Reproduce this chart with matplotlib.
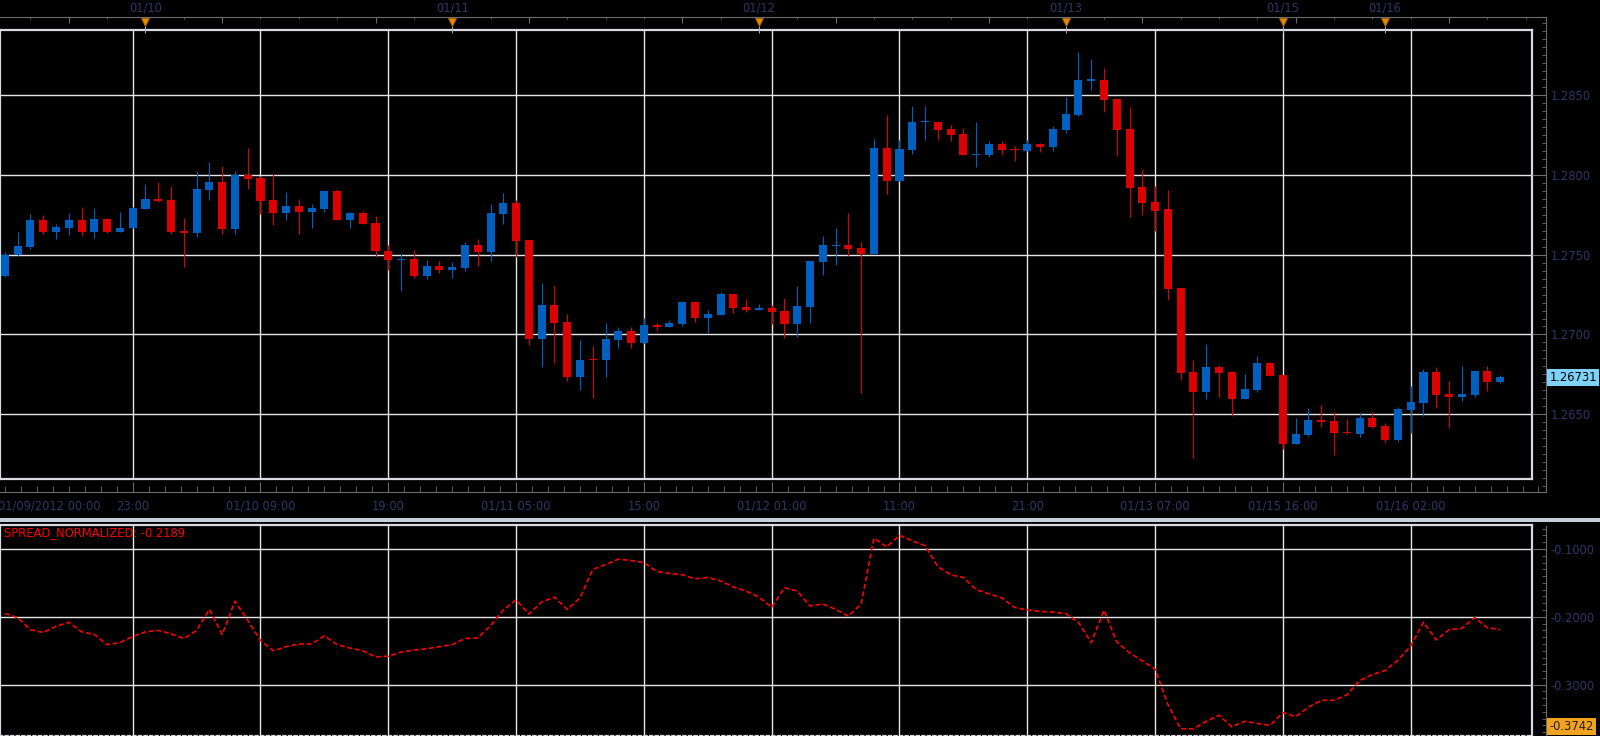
import numpy as np
import matplotlib
matplotlib.use("Agg")
import matplotlib.pyplot as plt
from matplotlib.patches import Rectangle
from matplotlib.ticker import MultipleLocator, FixedLocator, FormatStrFormatter

# hourly EURUSD-style candles
opens = [1.27367, 1.27496, 1.27546, 1.27720, 1.27639, 1.27670, 1.27714, 1.27639, 1.27726, 1.27639,
         1.27664, 1.27789, 1.27851, 1.27844, 1.27651, 1.27633, 1.27907, 1.27956, 1.27658, 1.28000,
         1.27981, 1.27844, 1.27763, 1.27807, 1.27770, 1.27789, 1.27901, 1.27714, 1.27763, 1.27701,
         1.27525, 1.27468, 1.27473, 1.27366, 1.27429, 1.27404, 1.27416, 1.27561, 1.27517, 1.27756,
         1.27826, 1.27593, 1.26969, 1.27183, 1.27076, 1.26736, 1.26845, 1.26837, 1.26963, 1.27019,
         1.26944, 1.27057, 1.27044, 1.27063, 1.27202, 1.27101, 1.27120, 1.27252, 1.27170, 1.27152,
         1.27164, 1.27148, 1.27068, 1.27173, 1.27455, 1.27558, 1.27562, 1.27543, 1.27505, 1.28170,
         1.27963, 1.28157, 1.28331, 1.28333, 1.28289, 1.28258, 1.28128, 1.28126, 1.28195, 1.28159,
         1.28151, 1.28195, 1.28176, 1.28283, 1.28377, 1.28592, 1.28596, 1.28477, 1.28289, 1.27925,
         1.27831, 1.27785, 1.27288, 1.26766, 1.26641, 1.26798, 1.26766, 1.26597, 1.26653, 1.26823,
         1.26748, 1.26314, 1.26370, 1.26465, 1.26458, 1.26387, 1.26377, 1.26477, 1.26427, 1.26339,
         1.26527, 1.26571, 1.26766, 1.26628, 1.26609, 1.26622, 1.26773, 1.26704]
highs = [1.27514, 1.27645, 1.27757, 1.27751, 1.27695, 1.27763, 1.27801, 1.27795, 1.27732, 1.27770,
         1.27800, 1.27944, 1.27956, 1.27932, 1.27732, 1.28025, 1.28081, 1.28056, 1.28025, 1.28168,
         1.27990, 1.28006, 1.27894, 1.27851, 1.27820, 1.27907, 1.27913, 1.27770, 1.27776, 1.27739,
         1.27558, 1.27502, 1.27530, 1.27467, 1.27460, 1.27454, 1.27580, 1.27599, 1.27819, 1.27889,
         1.27845, 1.27593, 1.27322, 1.27303, 1.27126, 1.26963, 1.26925, 1.27070, 1.27044, 1.27044,
         1.27101, 1.27070, 1.27089, 1.27202, 1.27202, 1.27152, 1.27265, 1.27252, 1.27221, 1.27190,
         1.27183, 1.27231, 1.27305, 1.27461, 1.27618, 1.27668, 1.27762, 1.27580, 1.28226, 1.28377,
         1.28220, 1.28433, 1.28433, 1.28333, 1.28314, 1.28295, 1.28333, 1.28214, 1.28214, 1.28182,
         1.28220, 1.28201, 1.28308, 1.28490, 1.28772, 1.28728, 1.28671, 1.28477, 1.28427, 1.28038,
         1.27931, 1.27905, 1.27288, 1.26842, 1.26942, 1.26810, 1.26766, 1.26754, 1.26867, 1.26829,
         1.26748, 1.26477, 1.26540, 1.26559, 1.26515, 1.26471, 1.26509, 1.26515, 1.26446, 1.26546,
         1.26678, 1.26785, 1.26798, 1.26710, 1.26804, 1.26773, 1.26804, 1.26748]
lows = [1.27360, 1.27490, 1.27533, 1.27627, 1.27596, 1.27620, 1.27614, 1.27602, 1.27633, 1.27639,
        1.27664, 1.27789, 1.27832, 1.27627, 1.27421, 1.27608, 1.27844, 1.27627, 1.27627, 1.27913,
        1.27757, 1.27683, 1.27714, 1.27627, 1.27664, 1.27770, 1.27714, 1.27670, 1.27689, 1.27483,
        1.27402, 1.27271, 1.27353, 1.27347, 1.27385, 1.27353, 1.27397, 1.27429, 1.27460, 1.27693,
        1.27485, 1.26937, 1.26799, 1.26824, 1.26711, 1.26654, 1.26604, 1.26736, 1.26918, 1.26918,
        1.26944, 1.27019, 1.27044, 1.27051, 1.27076, 1.27007, 1.27120, 1.27133, 1.27139, 1.27152,
        1.27063, 1.26981, 1.26987, 1.27073, 1.27373, 1.27436, 1.27493, 1.26635, 1.27505, 1.27881,
        1.27963, 1.28132, 1.28220, 1.28220, 1.28214, 1.28126, 1.28051, 1.28113, 1.28126, 1.28088,
        1.28151, 1.28145, 1.28151, 1.28264, 1.28370, 1.28533, 1.28396, 1.28120, 1.27737, 1.27750,
        1.27650, 1.27213, 1.26716, 1.26228, 1.26597, 1.26609, 1.26490, 1.26597, 1.26641, 1.26741,
        1.26282, 1.26314, 1.26364, 1.26421, 1.26244, 1.26379, 1.26358, 1.26414, 1.26320, 1.26326,
        1.26383, 1.26490, 1.26540, 1.26414, 1.26584, 1.26609, 1.26647, 1.26697]
closes = [1.27500, 1.27552, 1.27720, 1.27639, 1.27676, 1.27714, 1.27639, 1.27726, 1.27639, 1.27670,
          1.27795, 1.27851, 1.27838, 1.27645, 1.27633, 1.27913, 1.27956, 1.27658, 1.28000, 1.27975,
          1.27838, 1.27763, 1.27807, 1.27770, 1.27795, 1.27901, 1.27714, 1.27763, 1.27695, 1.27521,
          1.27469, 1.27473, 1.27366, 1.27429, 1.27404, 1.27422, 1.27561, 1.27517, 1.27763, 1.27826,
          1.27586, 1.26969, 1.27183, 1.27070, 1.26736, 1.26843, 1.26840, 1.26969, 1.27019, 1.26944,
          1.27057, 1.27044, 1.27070, 1.27202, 1.27101, 1.27126, 1.27252, 1.27164, 1.27152, 1.27164,
          1.27139, 1.27068, 1.27179, 1.27461, 1.27562, 1.27562, 1.27537, 1.27505, 1.28170, 1.27963,
          1.28163, 1.28333, 1.28333, 1.28283, 1.28251, 1.28126, 1.28130, 1.28195, 1.28157, 1.28155,
          1.28195, 1.28176, 1.28289, 1.28383, 1.28596, 1.28596, 1.28471, 1.28283, 1.27919, 1.27825,
          1.27775, 1.27282, 1.26760, 1.26641, 1.26798, 1.26760, 1.26597, 1.26660, 1.26823, 1.26741,
          1.26314, 1.26377, 1.26465, 1.26452, 1.26383, 1.26383, 1.26477, 1.26421, 1.26339, 1.26534,
          1.26578, 1.26766, 1.26622, 1.26609, 1.26628, 1.26773, 1.26704, 1.26731]

spread = [-0.195, -0.201, -0.219, -0.223, -0.214, -0.208, -0.222, -0.226, -0.241, -0.238,
          -0.229, -0.222, -0.220, -0.225, -0.232, -0.220, -0.189, -0.226, -0.177, -0.205,
          -0.235, -0.250, -0.244, -0.240, -0.240, -0.228, -0.241, -0.246, -0.250, -0.259,
          -0.258, -0.252, -0.249, -0.247, -0.244, -0.241, -0.232, -0.231, -0.213, -0.190,
          -0.175, -0.196, -0.178, -0.171, -0.189, -0.172, -0.130, -0.123, -0.115, -0.117,
          -0.120, -0.133, -0.136, -0.138, -0.144, -0.142, -0.147, -0.156, -0.162, -0.171,
          -0.186, -0.157, -0.162, -0.184, -0.181, -0.189, -0.199, -0.181, -0.084, -0.097,
          -0.080, -0.088, -0.095, -0.126, -0.138, -0.142, -0.160, -0.166, -0.172, -0.186,
          -0.190, -0.192, -0.193, -0.195, -0.208, -0.238, -0.190, -0.237, -0.253, -0.265,
          -0.277, -0.329, -0.365, -0.365, -0.354, -0.345, -0.362, -0.354, -0.357, -0.360,
          -0.341, -0.347, -0.333, -0.323, -0.323, -0.315, -0.294, -0.285, -0.279, -0.264,
          -0.243, -0.208, -0.234, -0.219, -0.217, -0.201, -0.216, -0.2189]

first_label = "01/09/2012 00:00"
time_bars = [10, 20, 30, 40, 50, 60, 70, 80, 90, 100, 110]
time_labels = ["23:00", "01/10 09:00", "19:00", "01/11 05:00", "15:00", "01/12 01:00",
               "11:00", "21:00", "01/13 07:00", "01/15 16:00", "01/16 02:00"]
day_bars = [11, 35, 59, 83, 100, 108]
day_labels = ["01/10", "01/11", "01/12", "01/13", "01/15", "01/16"]
price_levels = [1.2650, 1.2700, 1.2750, 1.2800, 1.2850]
spread_levels = [-0.1, -0.2, -0.3]
spread_name = "SPREAD_NORMALIZED"
spread_low = -0.3742

BLUE = "#0060c0"
RED = "#dc0000"
FRAME = "#d6dae2"
GRID = "#e6e6e6"
AXIS = "#6c6c6c"
LABEL = "#33336a"
FS = 8.3

plt.rcParams["font.family"] = ["DejaVu Sans"]

W, H = 1600, 736
PX_BAR = 12.78
X0 = -4.9 / PX_BAR


def fbox(x0, y0, x1, y1):
    return [x0 / W, 1 - y1 / H, (x1 - x0) / W, (y1 - y0) / H]


def px2price(y):
    return 1.2850 - (y - 95) / 15965


def px2spread(y):
    return -0.1 - (y - 549) / 678.5


fig = plt.figure(figsize=(W / 100, H / 100), dpi=100, facecolor="black")

ax = fig.add_axes(fbox(0, 29.6, 1532, 478.6))
rax = fig.add_axes(fbox(1532, 17.3, 1546, 492))
tax = fig.add_axes(fbox(0, 17.3, 1546, 29.6))
bax = fig.add_axes(fbox(0, 479.6, 1546, 492))
ax2 = fig.add_axes(fbox(0, 524.5, 1532, 736))
rax2 = fig.add_axes(fbox(1532, 526, 1546, 736))

o = np.array(opens)
h = np.array(highs)
l = np.array(lows)
c = np.array(closes)
idx = np.arange(len(o))
cols = np.where(c > o, BLUE, RED)

# main price panel
ax.set_facecolor("black")
ax.set_xlim(X0, X0 + 1532 / PX_BAR)
ax.set_ylim(px2price(478.6), px2price(29.6))
ax.set_xticks(time_bars)
ax.set_yticks(price_levels)
ax.grid(True, color=GRID, lw=1.0)
ax.set_axisbelow(True)
ax.tick_params(length=0, labelbottom=False, labelleft=False)
for s in ax.spines.values():
    s.set_color(FRAME)
    s.set_linewidth(1.6)

ax.vlines(idx, l, h, colors=cols, lw=0.8, zorder=2)
body_h = np.maximum(np.abs(c - o), 0.00007)
ax.bar(idx, body_h, bottom=(o + c) / 2 - body_h / 2, width=0.63, color=cols, linewidth=0, zorder=3)

# right price scale
rax.set_facecolor("none")
rax.set_ylim(px2price(492), px2price(17.3))
rax.set_xticks([])
for k in ["top", "left", "bottom"]:
    rax.spines[k].set_visible(False)
rax.spines["right"].set_color(AXIS)
rax.yaxis.tick_right()
rax.yaxis.set_major_locator(FixedLocator(price_levels))
rax.yaxis.set_minor_locator(MultipleLocator(0.0005))
rax.yaxis.set_major_formatter(FormatStrFormatter("%.4f"))
rax.tick_params(axis="y", which="major", direction="in", length=10, color=AXIS,
                labelsize=FS, labelcolor=LABEL, pad=3.5)
rax.tick_params(axis="y", which="minor", direction="in", length=2.9, color=AXIS)
rax.annotate(f"{closes[-1]:.5f}", xy=(1, closes[-1]), xycoords=("axes fraction", "data"),
             xytext=(2.5, 0), textcoords="offset points", ha="left", va="center",
             fontsize=FS, color="black", annotation_clip=False,
             bbox=dict(boxstyle="square,pad=0.2", fc="#7ed2f8", ec="none"))

# top date strip
tax.set_facecolor("none")
tax.set_xlim(X0, X0 + 1546 / PX_BAR)
tax.set_ylim(0, 1)
for k in ["left", "right", "bottom"]:
    tax.spines[k].set_visible(False)
tax.spines["top"].set_color(AXIS)
tax.xaxis.tick_top()
tax.xaxis.set_major_locator(FixedLocator(np.arange(5, 121, 12)))
tax.xaxis.set_minor_locator(FixedLocator(np.arange(2, 121, 3)))
tax.tick_params(axis="x", which="major", direction="in", length=4.3, color=AXIS, labeltop=False)
tax.tick_params(axis="x", which="minor", direction="in", length=1.7, color=AXIS)
tax.set_yticks([])
tax.vlines(day_bars, -0.27, 0.3, colors="#b0b0b0", lw=0.7, clip_on=False, zorder=4)
tax.plot(day_bars, [0.6] * len(day_bars), ls="none", marker="v", ms=6.3,
         mfc="#e68a00", mec="#a86000", mew=0.6, clip_on=False, zorder=5)
for b, lab in zip(day_bars, day_labels):
    tax.text(b, 1.78, lab, ha="center", va="center", fontsize=FS, color=LABEL, clip_on=False)

# bottom time scale
bax.set_facecolor("none")
bax.set_xlim(X0, X0 + 1546 / PX_BAR)
bax.set_ylim(0, 1)
for k in ["left", "right", "top"]:
    bax.spines[k].set_visible(False)
bax.spines["bottom"].set_color(AXIS)
bax.xaxis.set_major_locator(FixedLocator(time_bars))
bax.xaxis.set_minor_locator(MultipleLocator(1.25))
bax.set_xticklabels(time_labels)
bax.tick_params(axis="x", which="major", direction="in", length=7.2, color=AXIS,
                labelsize=FS, labelcolor=LABEL, pad=5.5)
bax.tick_params(axis="x", which="minor", direction="in", length=4.3, color=AXIS)
bax.set_yticks([])
bax.annotate(first_label, xy=(X0, 0), xycoords=("data", "axes fraction"),
             xytext=(-1.5, -5.5), textcoords="offset points", ha="left", va="top",
             fontsize=FS, color=LABEL, annotation_clip=False)

# separator bar between panels
fig.patches.append(Rectangle((0, 1 - 521.7 / H), 1, 4 / H, transform=fig.transFigure,
                             facecolor="#c6d0dc", edgecolor="none"))

# indicator panel
ax2.set_facecolor("black")
ax2.set_xlim(X0, X0 + 1532 / PX_BAR)
ax2.set_ylim(px2spread(736), px2spread(524.5))
ax2.set_xticks(time_bars)
ax2.set_yticks(spread_levels)
ax2.grid(True, color=GRID, lw=1.0)
ax2.set_axisbelow(True)
ax2.tick_params(length=0, labelbottom=False, labelleft=False)
for s in ax2.spines.values():
    s.set_color(FRAME)
    s.set_linewidth(1.6)
ax2.spines["bottom"].set_linestyle((0, (1, 1.5)))
ax2.plot(idx, spread, color="#ff0000", lw=1.2, ls=(0, (3, 1.6)), zorder=3)
ax2.text(0.0026, 0.964, f"{spread_name}: {spread[-1]:.4f}", transform=ax2.transAxes,
         ha="left", va="center", fontsize=FS, color="#ff0000")

rax2.set_facecolor("none")
rax2.set_ylim(px2spread(736), px2spread(526))
rax2.set_xticks([])
for k in ["top", "left", "bottom"]:
    rax2.spines[k].set_visible(False)
rax2.spines["right"].set_color(AXIS)
rax2.yaxis.tick_right()
rax2.yaxis.set_major_locator(FixedLocator(spread_levels))
rax2.yaxis.set_minor_locator(MultipleLocator(0.01))
rax2.yaxis.set_major_formatter(FormatStrFormatter("%.4f"))
rax2.tick_params(axis="y", which="major", direction="in", length=10, color=AXIS,
                 labelsize=FS, labelcolor=LABEL, pad=3.5)
rax2.tick_params(axis="y", which="minor", direction="in", length=2.9, color=AXIS)
# minimum label sits on the bottom edge, kept fully inside the picture
rax2.annotate(f"{spread_low:.4f}", xy=(1, 0), xycoords="axes fraction",
              xytext=(2.5, 2.2), textcoords="offset points", ha="left", va="bottom",
              fontsize=FS, color="#202020", annotation_clip=False,
              bbox=dict(boxstyle="square,pad=0.2", fc="#f2a21e", ec="none"))

fig.savefig("out.png", dpi=100, facecolor="black")
